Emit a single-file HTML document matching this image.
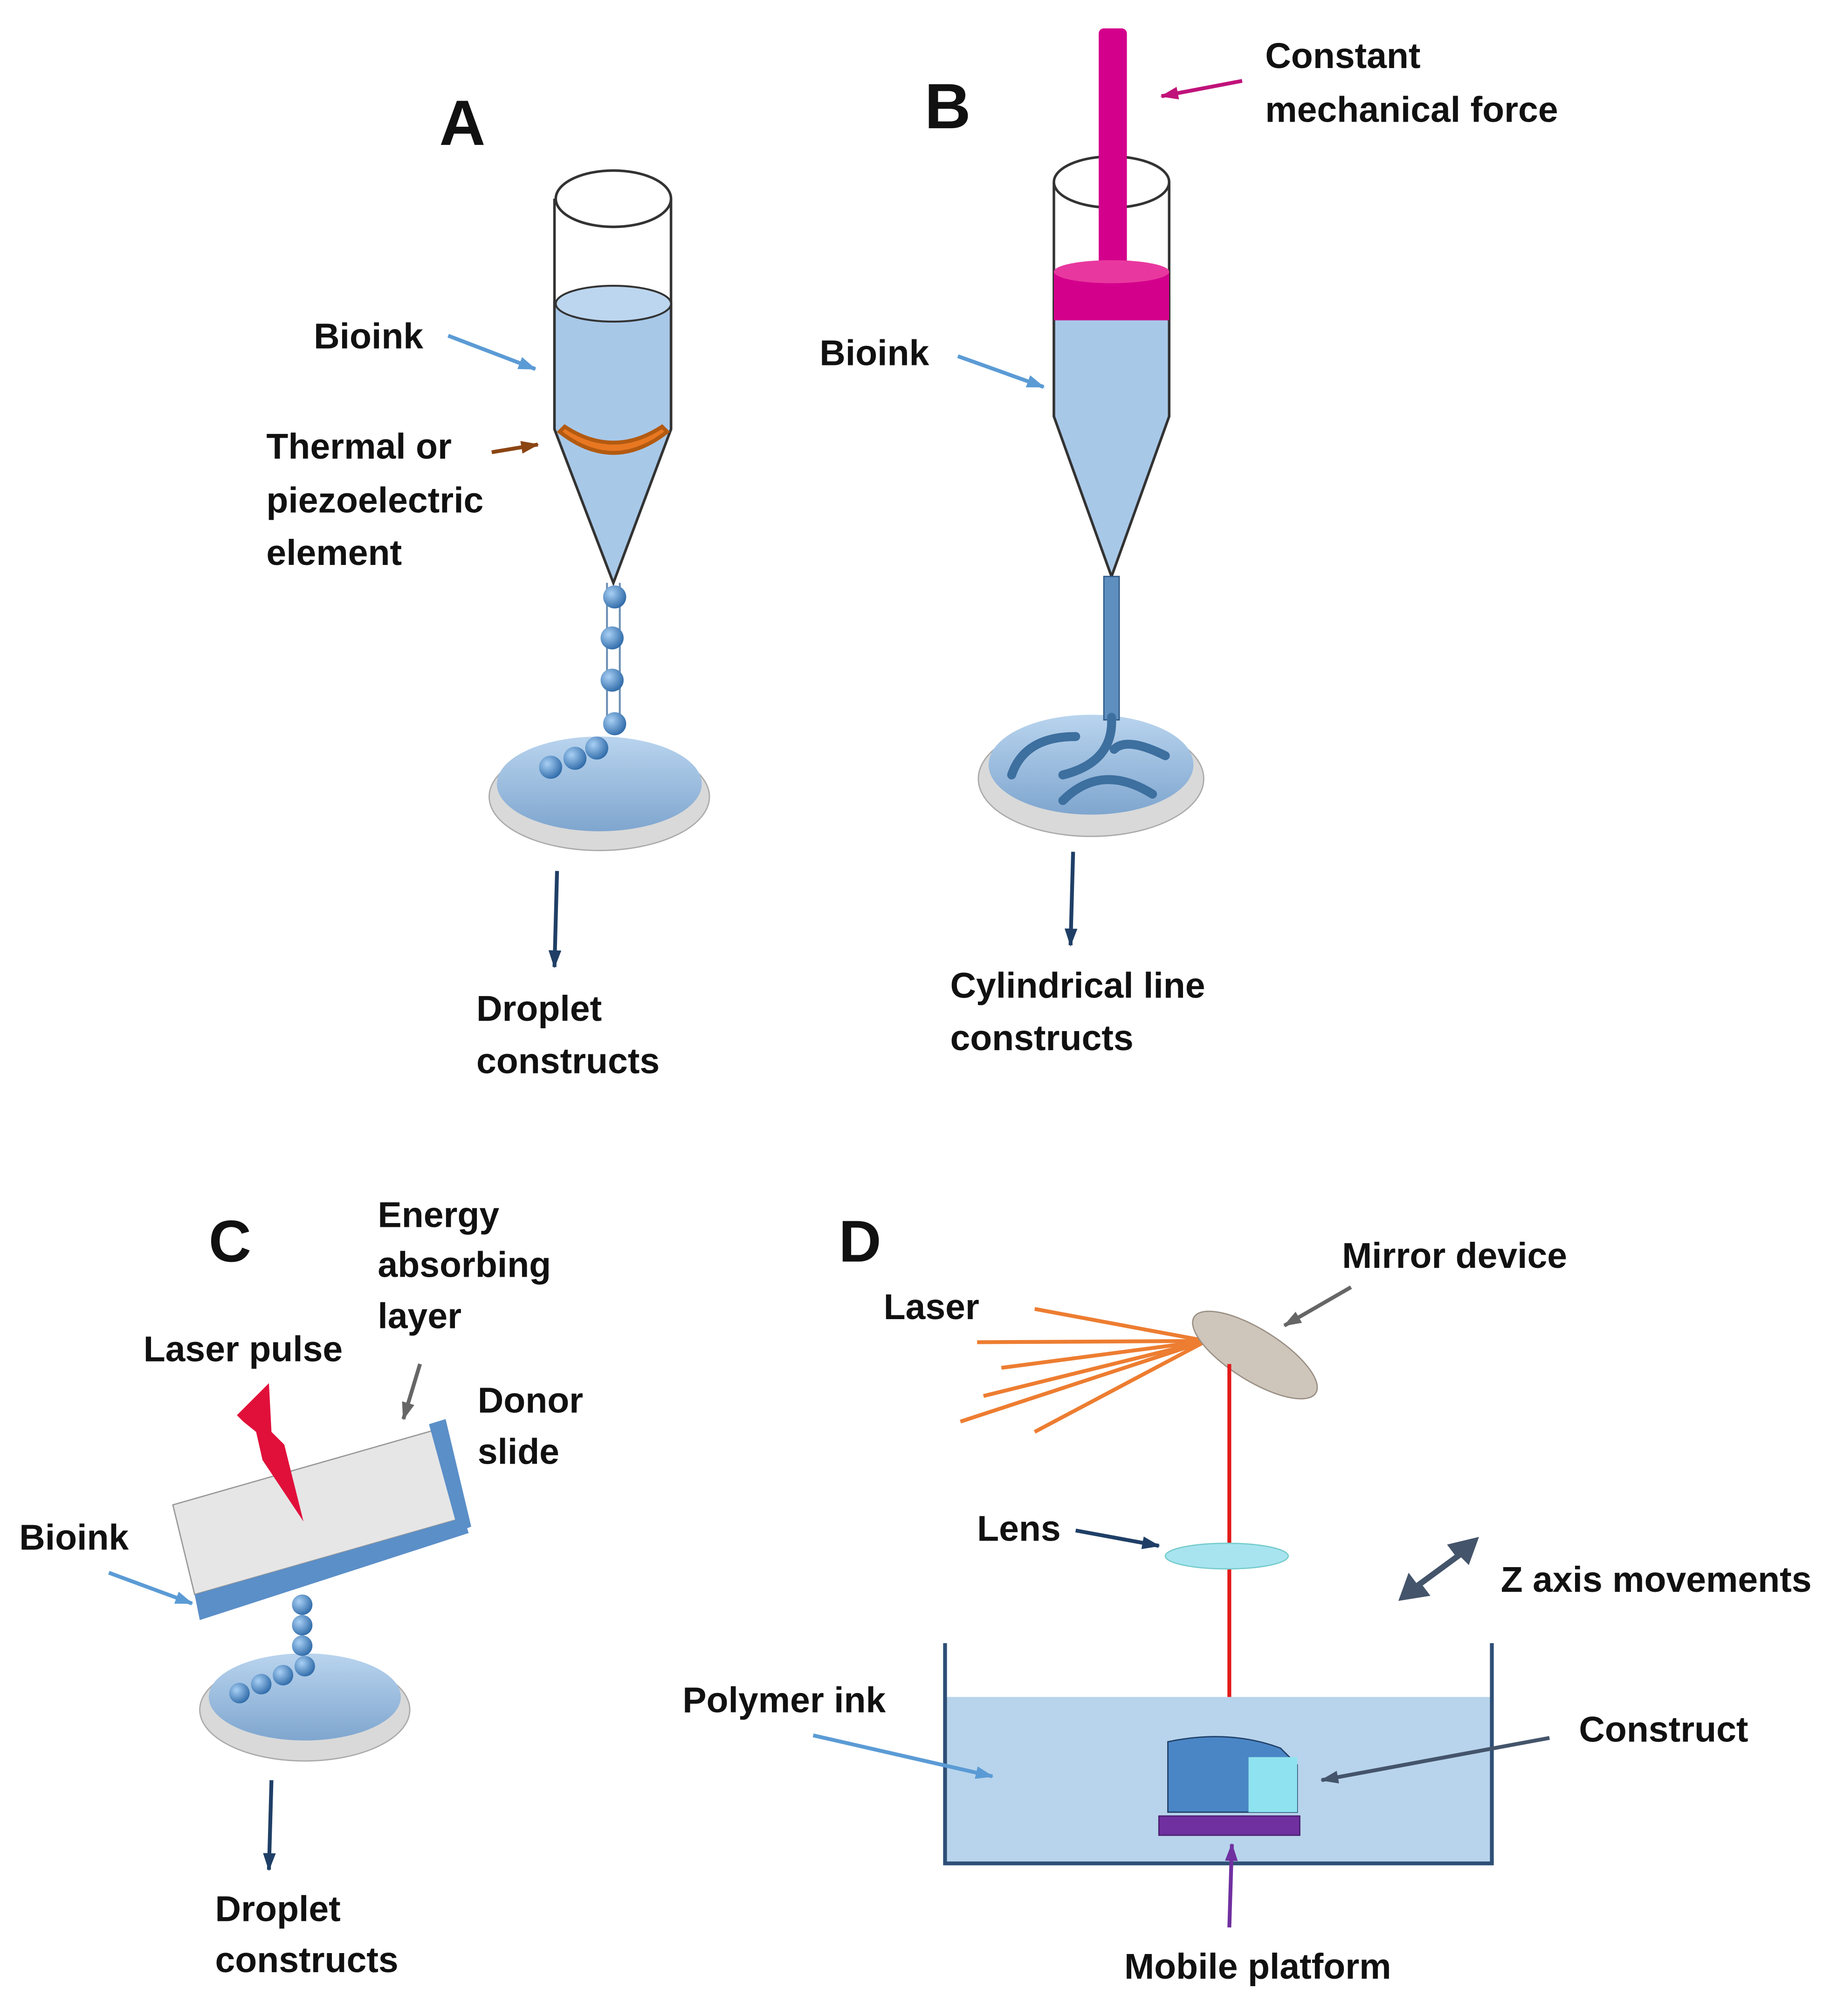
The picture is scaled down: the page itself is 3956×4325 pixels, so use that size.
<!DOCTYPE html>
<html><head><meta charset="utf-8"><style>
html,body{margin:0;padding:0;background:#fff}
svg{display:block}
text{font-family:"Liberation Sans",sans-serif;font-weight:bold;fill:#111}
</style></head><body>
<svg width="3956" height="4325" viewBox="0 0 1440 1574" xmlns="http://www.w3.org/2000/svg">
<defs>
<marker id="ab" markerWidth="14" markerHeight="10" refX="13" refY="5" orient="auto" markerUnits="userSpaceOnUse"><path d="M0,0 L14,5 L0,10 z" fill="#5b9bd5"/></marker>
<marker id="ad" markerWidth="14" markerHeight="10" refX="13" refY="5" orient="auto" markerUnits="userSpaceOnUse"><path d="M0,0 L14,5 L0,10 z" fill="#1f3f66"/></marker>
<marker id="ao" markerWidth="14" markerHeight="10" refX="13" refY="5" orient="auto" markerUnits="userSpaceOnUse"><path d="M0,0 L14,5 L0,10 z" fill="#8b4513"/></marker>
<marker id="am" markerWidth="14" markerHeight="10" refX="13" refY="5" orient="auto" markerUnits="userSpaceOnUse"><path d="M0,0 L14,5 L0,10 z" fill="#c0127a"/></marker>
<marker id="ag" markerWidth="14" markerHeight="10" refX="13" refY="5" orient="auto" markerUnits="userSpaceOnUse"><path d="M0,0 L14,5 L0,10 z" fill="#666"/></marker>
<marker id="as" markerWidth="14" markerHeight="10" refX="13" refY="5" orient="auto" markerUnits="userSpaceOnUse"><path d="M0,0 L14,5 L0,10 z" fill="#44546a"/></marker>
<marker id="ap" markerWidth="14" markerHeight="10" refX="13" refY="5" orient="auto" markerUnits="userSpaceOnUse"><path d="M0,0 L14,5 L0,10 z" fill="#7030a0"/></marker>
<radialGradient id="dr" cx="0.35" cy="0.35" r="0.7"><stop offset="0" stop-color="#a9d0f5"/><stop offset="1" stop-color="#2e6aa8"/></radialGradient>
<linearGradient id="dish" x1="0" y1="0" x2="0" y2="1"><stop offset="0" stop-color="#b9d4ee"/><stop offset="1" stop-color="#7fa6cf"/></linearGradient>
</defs>

<!-- A -->
<text x="343" y="113" font-size="50">A</text>
<path d="M433,155 L433,335 L479,455 L524,335 L524,155" fill="none" stroke="#333" stroke-width="2"/>
<path d="M433,237 L433,335 L479,455 L524,335 L524,237 Z" fill="#a8c8e8" stroke="#333" stroke-width="2"/>
<ellipse cx="479" cy="237" rx="45" ry="14" fill="#bcd6ef" stroke="#333" stroke-width="1.5"/>
<ellipse cx="479" cy="155" rx="45" ry="22" fill="#fff" stroke="#333" stroke-width="2"/>
<path d="M437,337 Q479,370 521,337 L517,333 Q479,358 441,333 Z" fill="#e87722" stroke="#b35a10" stroke-width="3"/>
<line x1="474" y1="455" x2="474" y2="568" stroke="#6b8fb3" stroke-width="1.5"/>
<line x1="484" y1="455" x2="484" y2="568" stroke="#6b8fb3" stroke-width="1.5"/>
<ellipse cx="468" cy="622" rx="86" ry="42" fill="#d9d9d9" stroke="#aaa"/>
<ellipse cx="468" cy="612" rx="80" ry="37" fill="url(#dish)"/>
<g fill="url(#dr)"><circle cx="480" cy="466" r="9"/><circle cx="478" cy="498" r="9"/><circle cx="478" cy="531" r="9"/><circle cx="480" cy="565" r="9"/><circle cx="466" cy="584" r="9"/><circle cx="449" cy="592" r="9"/><circle cx="430" cy="599" r="9"/></g>
<line x1="435" y1="680" x2="433" y2="755" stroke="#1f3f66" stroke-width="3" marker-end="url(#ad)"/>
<text x="372" y="797" font-size="28">Droplet</text>
<text x="372" y="838" font-size="28">constructs</text>
<text x="245" y="272" font-size="28">Bioink</text>
<line x1="350" y1="262" x2="418" y2="288" stroke="#5b9bd5" stroke-width="3" marker-end="url(#ab)"/>
<text x="208" y="358" font-size="28">Thermal or</text>
<text x="208" y="400" font-size="28">piezoelectric</text>
<text x="208" y="441" font-size="28">element</text>
<line x1="384" y1="353" x2="420" y2="347" stroke="#8b4513" stroke-width="3" marker-end="url(#ao)"/>

<!-- B -->
<text x="722" y="100" font-size="50">B</text>
<path d="M823,142 L823,325 L868,450 L913,325 L913,142" fill="none" stroke="#333" stroke-width="2"/>
<path d="M823,235 L823,325 L868,450 L913,325 L913,235 Z" fill="#a8c8e8" stroke="#333" stroke-width="2"/>
<ellipse cx="868" cy="142" rx="45" ry="20" fill="#fff" stroke="#333" stroke-width="2"/>
<rect x="858" y="22" width="22" height="195" rx="4" fill="#d3008c"/>
<rect x="823" y="212" width="90" height="38" fill="#d3008c"/>
<ellipse cx="868" cy="212" rx="45" ry="9" fill="#e8389f"/>
<ellipse cx="852" cy="608" rx="88" ry="45" fill="#d9d9d9" stroke="#aaa"/>
<ellipse cx="852" cy="597" rx="80" ry="39" fill="url(#dish)"/>
<rect x="862" y="450" width="12" height="112" fill="#5f8fbf" stroke="#2e5a88"/>
<path d="M868,560 Q870,595 830,605 M790,605 Q800,575 840,575 M830,625 Q860,595 900,620 M910,590 Q880,575 870,585" fill="none" stroke="#3d6f9f" stroke-width="7" stroke-linecap="round"/>
<line x1="838" y1="665" x2="836" y2="738" stroke="#1f3f66" stroke-width="3" marker-end="url(#ad)"/>
<text x="742" y="779" font-size="28">Cylindrical line</text>
<text x="742" y="820" font-size="28">constructs</text>
<text x="640" y="285" font-size="28">Bioink</text>
<line x1="748" y1="278" x2="815" y2="302" stroke="#5b9bd5" stroke-width="3" marker-end="url(#ab)"/>
<text x="988" y="53" font-size="28">Constant</text>
<text x="988" y="95" font-size="28">mechanical force</text>
<line x1="970" y1="63" x2="907" y2="75" stroke="#c0127a" stroke-width="3" marker-end="url(#am)"/>

<!-- C -->
<text x="163" y="985" font-size="46">C</text>
<text x="295" y="958" font-size="28">Energy</text>
<text x="295" y="997" font-size="28">absorbing</text>
<text x="295" y="1037" font-size="28">layer</text>
<line x1="328" y1="1065" x2="315" y2="1108" stroke="#666" stroke-width="3" marker-end="url(#ag)"/>
<text x="112" y="1063" font-size="28">Laser pulse</text>
<text x="373" y="1103" font-size="28">Donor</text>
<text x="373" y="1143" font-size="28">slide</text>
<text x="15" y="1210" font-size="28">Bioink</text>
<polygon points="135,1175 345,1115 362,1185 152,1245" fill="#e6e6e6" stroke="#999"/>
<polygon points="152,1245 362,1185 366,1197 156,1265" fill="#5b8fc8"/>
<polygon points="335,1112 348,1108 368,1192 358,1196" fill="#5b8fc8"/>
<polygon points="185,1105 210,1080 212,1118 222,1128 237,1188 205,1140 200,1118 190,1110" fill="#e0103a"/>
<line x1="85" y1="1228" x2="150" y2="1252" stroke="#5b9bd5" stroke-width="3" marker-end="url(#ab)"/>
<ellipse cx="238" cy="1335" rx="82" ry="40" fill="#d9d9d9" stroke="#aaa"/>
<ellipse cx="238" cy="1325" rx="75" ry="34" fill="url(#dish)"/>
<g fill="url(#dr)"><circle cx="236" cy="1253" r="8"/><circle cx="236" cy="1269" r="8"/><circle cx="236" cy="1285" r="8"/><circle cx="238" cy="1301" r="8"/><circle cx="221" cy="1308" r="8"/><circle cx="204" cy="1315" r="8"/><circle cx="187" cy="1322" r="8"/></g>
<line x1="212" y1="1390" x2="210" y2="1460" stroke="#1f3f66" stroke-width="3" marker-end="url(#ad)"/>
<text x="168" y="1500" font-size="28">Droplet</text>
<text x="168" y="1540" font-size="28">constructs</text>

<!-- D -->
<text x="655" y="985" font-size="46">D</text>
<text x="1048" y="990" font-size="28">Mirror device</text>
<line x1="1055" y1="1005" x2="1003" y2="1035" stroke="#666" stroke-width="3" marker-end="url(#ag)"/>
<text x="690" y="1030" font-size="28">Laser</text>
<g stroke="#ed7d31" stroke-width="3">
<line x1="942" y1="1047" x2="808" y2="1022"/><line x1="942" y1="1047" x2="763" y2="1048"/><line x1="942" y1="1047" x2="782" y2="1068"/><line x1="942" y1="1047" x2="768" y2="1090"/><line x1="942" y1="1047" x2="750" y2="1110"/><line x1="942" y1="1047" x2="808" y2="1118"/></g>
<ellipse cx="980" cy="1058" rx="56" ry="20" transform="rotate(32 980 1058)" fill="#cfc6bb" stroke="#9a8f84"/>
<line x1="960" y1="1065" x2="960" y2="1355" stroke="#e31a1a" stroke-width="3"/>
<ellipse cx="958" cy="1215" rx="48" ry="10" fill="#a8e4ef" stroke="#7cc"/>
<text x="763" y="1203" font-size="28">Lens</text>
<line x1="840" y1="1195" x2="905" y2="1207" stroke="#1f3f66" stroke-width="3" marker-end="url(#ad)"/>
<g fill="#44546a"><polygon points="1092,1250 1100,1228 1106,1236 1136,1214 1130,1206 1155,1200 1147,1222 1141,1216 1111,1238 1117,1246"/></g>
<text x="1172" y="1243" font-size="28">Z axis movements</text>
<rect x="738" y="1325" width="427" height="130" fill="#b8d4ec"/>
<path d="M738,1283 L738,1455 L1165,1455 L1165,1283" fill="none" stroke="#2e4f76" stroke-width="3"/>
<text x="533" y="1337" font-size="28">Polymer ink</text>
<line x1="635" y1="1355" x2="775" y2="1387" stroke="#5b9bd5" stroke-width="3" marker-end="url(#ab)"/>
<path d="M912,1360 Q960,1350 1000,1365 L1013,1378 L1013,1415 L912,1415 Z" fill="#4a86c6" stroke="#1f3f66"/>
<rect x="975" y="1372" width="38" height="43" fill="#8fe3f0"/>
<rect x="905" y="1418" width="110" height="15" fill="#7030a0" stroke="#4b1f70"/>
<text x="1233" y="1360" font-size="28">Construct</text>
<line x1="1210" y1="1357" x2="1032" y2="1390" stroke="#44546a" stroke-width="3" marker-end="url(#as)"/>
<line x1="960" y1="1505" x2="962" y2="1440" stroke="#7030a0" stroke-width="3" marker-end="url(#ap)"/>
<text x="878" y="1545" font-size="28">Mobile platform</text>
</svg>
</body></html>
